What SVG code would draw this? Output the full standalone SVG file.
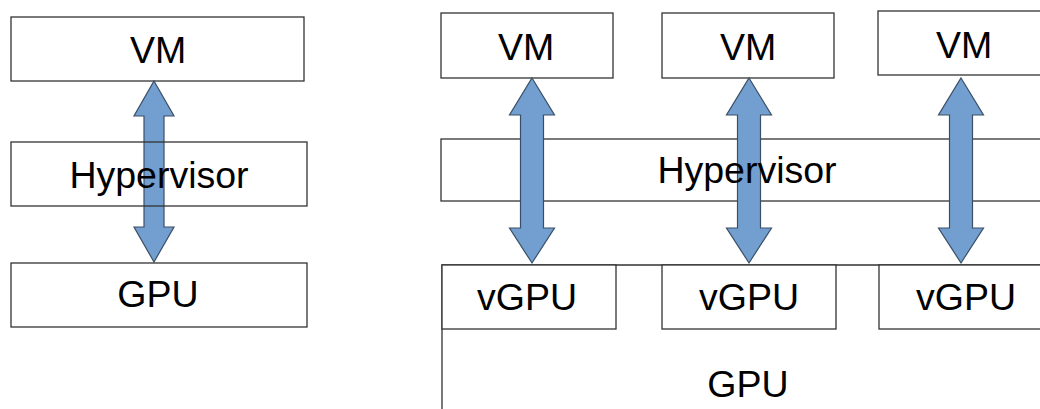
<svg xmlns="http://www.w3.org/2000/svg" width="1040" height="409" viewBox="0 0 1040 409">
<style>
.box{fill:none;stroke:#333;stroke-width:1.3}
.bg{fill:#fff;stroke:#333;stroke-width:1.3}
.arr{fill:#729fcf;stroke:#3a4f66;stroke-width:1.2;stroke-linejoin:miter}
text{font-family:"Liberation Sans",Arial,sans-serif;font-size:37.5px;fill:#000;text-anchor:middle}
</style>
<rect width="1040" height="409" fill="#fff"/>
<g id="gpu-r">
<path class="box" d="M442,409 V265 H1041"/>
<text x="748" y="397">GPU</text>
</g>
<g id="hyp-r"><rect class="bg" x="441" y="139" width="610" height="62"/></g>
<g id="vm-l"><rect class="bg" x="11" y="17" width="293" height="64"/><text x="158" y="63">VM</text></g>
<g id="gpu-l"><rect class="bg" x="11" y="263" width="296" height="64"/><text x="158" y="307">GPU</text></g>
<g id="vm1"><rect class="bg" x="441" y="13" width="172" height="65"/><text x="526" y="60">VM</text></g>
<g id="vm2"><rect class="bg" x="662" y="13" width="172" height="65"/><text x="748" y="60">VM</text></g>
<g id="vm3"><rect class="bg" x="878" y="11" width="170" height="64"/><text x="964" y="58">VM</text></g>
<g id="vgpu1"><rect class="bg" x="442" y="265" width="174" height="64"/><text x="527" y="310">vGPU</text></g>
<g id="vgpu2"><rect class="bg" x="662" y="265" width="174" height="64"/><text x="749" y="310">vGPU</text></g>
<g id="vgpu3"><rect class="bg" x="879" y="265" width="170" height="64"/><text x="966" y="310">vGPU</text></g>
<g id="connectors">
<path class="arr" d="M154,81 L174,116 H164 V227 H174 L154,262 L134,227 H144 V116 H134 Z"/>
<path class="arr" d="M532,78 L554.5,115 H543.5 V228 H554.5 L532,263 L509.5,228 H520.5 V115 H509.5 Z"/>
<path class="arr" d="M749,78 L771.5,115 H760.5 V228 H771.5 L749,263 L726.5,228 H737.5 V115 H726.5 Z"/>
<path class="arr" d="M961,78 L983.5,115 H972.5 V228 H983.5 L961,263 L938.5,228 H949.5 V115 H938.5 Z"/>
</g>
<g id="hyp-l"><rect class="box" x="11" y="142" width="296" height="64"/><text x="159" y="188">Hypervisor</text></g>
<g id="hyp-r-label"><text x="747" y="183">Hypervisor</text></g>
</svg>
